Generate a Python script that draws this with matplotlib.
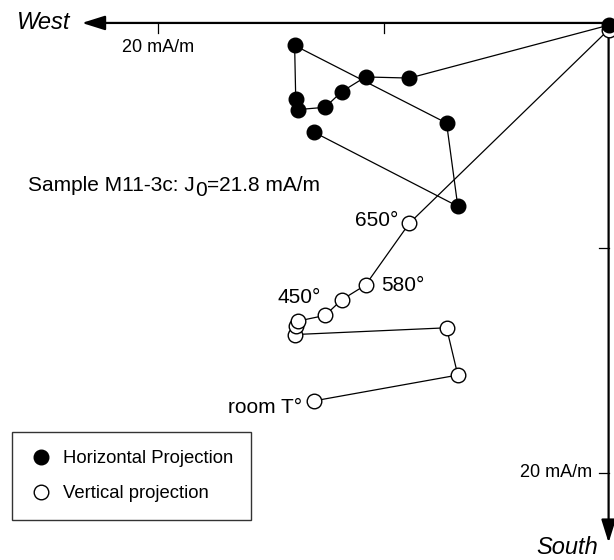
import matplotlib
matplotlib.use("Agg")
import matplotlib.pyplot as plt
from matplotlib.lines import Line2D

# Zijderveld diagram, sample M11-3c (units: mA/m)
# west component is shared by both projections
west = [13.1, 6.7, 7.2, 13.95, 13.9, 13.8, 12.6, 11.85, 10.8, 8.85, 0.0]
south = [4.85, 8.15, 4.45, 1.0, 3.4, 3.85, 3.75, 3.05, 2.4, 2.45, 0.1]
down = [16.8, 15.65, 13.55, 13.85, 13.45, 13.25, 13.0, 12.3, 11.65, 8.9, 0.3]

# temperature labels: (index of step, text)
temp_labels = [(0, "room T°"), (5, "450°"), (8, "580°"), (9, "650°")]
tick_values = [10, 20]

plt.rcParams["font.family"] = ["Liberation Sans", "DejaVu Sans"]

fig = plt.figure(figsize=(6.14, 5.6), dpi=100)
ax = fig.add_axes([0, 0, 1, 1])
ax.set_xlim(27.04, -0.24)
ax.set_ylim(23.87, -1.02)
ax.axis("off")

# axes with arrows
arrow = dict(arrowstyle="-|>,head_length=0.7,head_width=0.22", lw=1.6, color="k",
             mutation_scale=20, shrinkA=0, shrinkB=0)
ax.annotate("", xy=(23.4, 0), xytext=(0, 0), arrowprops=arrow)
ax.annotate("", xy=(0, 23.1), xytext=(0, 0), arrowprops=arrow)

for t in tick_values:
    ax.plot([t, t], [0.0, 0.45], color="k", lw=0.9)   # below the West axis
    ax.plot([0.0, 0.42], [t, t], color="k", lw=0.9)   # left of the South axis

ax.text(20, 1.07, "20 mA/m", fontsize=13, ha="center", va="center")
ax.text(0.73, 20, "20 mA/m", fontsize=13, ha="right", va="center")
ax.text(23.93, 0, "West", fontsize=17, style="italic", ha="right", va="center")
ax.text(0.47, 23.3, "South", fontsize=17, style="italic", ha="right", va="center")

# sample title with a full size, lowered subscript
yb = 7.49
t1 = ax.text(25.8, yb, "Sample M11-3c: J", fontsize=15, ha="left", va="baseline")
t2 = ax.annotate("0", xy=(1, yb), xycoords=(t1, "data"), xytext=(0.3, -3),
                 textcoords="offset points", fontsize=15, ha="left", va="baseline")
ax.annotate("=21.8 mA/m", xy=(1, yb), xycoords=(t2, "data"), xytext=(0.3, 0),
            textcoords="offset points", fontsize=15, ha="left", va="baseline")

# vertical projection (open) then horizontal projection (filled)
ax.plot(west, down, "-o", color="k", lw=0.9, mfc="white", mec="k", mew=1.0,
        ms=10.5, zorder=3)
ax.plot(west, south, "-o", color="k", lw=0.9, mfc="k", mec="k", ms=10.5, zorder=4)

label_pos = {
    "room T°": (13.62, 17.07, "right"),
    "450°": (14.73, 12.22, "left"),
    "580°": (10.11, 11.69, "left"),
    "650°": (9.36, 8.76, "right"),
}
for i, lab in temp_labels:
    x, y, ha = label_pos[lab]
    ax.text(x, y, lab, fontsize=15, ha=ha, va="center")

handles = [
    Line2D([], [], ls="none", marker="o", mfc="k", mec="k", ms=10.5),
    Line2D([], [], ls="none", marker="o", mfc="white", mec="k", mew=1.0, ms=10.5),
]
leg = ax.legend(handles, ["Horizontal Projection", "Vertical projection"],
                loc="lower left", bbox_to_anchor=(0.0195, 0.0714),
                bbox_transform=fig.transFigure, fontsize=13.3, frameon=True,
                fancybox=False, framealpha=1, edgecolor="#333333",
                borderaxespad=0, handlelength=1.2, handletextpad=0.6,
                labelspacing=0.98, borderpad=0.97)
leg.get_frame().set_linewidth(1.0)

fig.savefig("out.png", dpi=100)
